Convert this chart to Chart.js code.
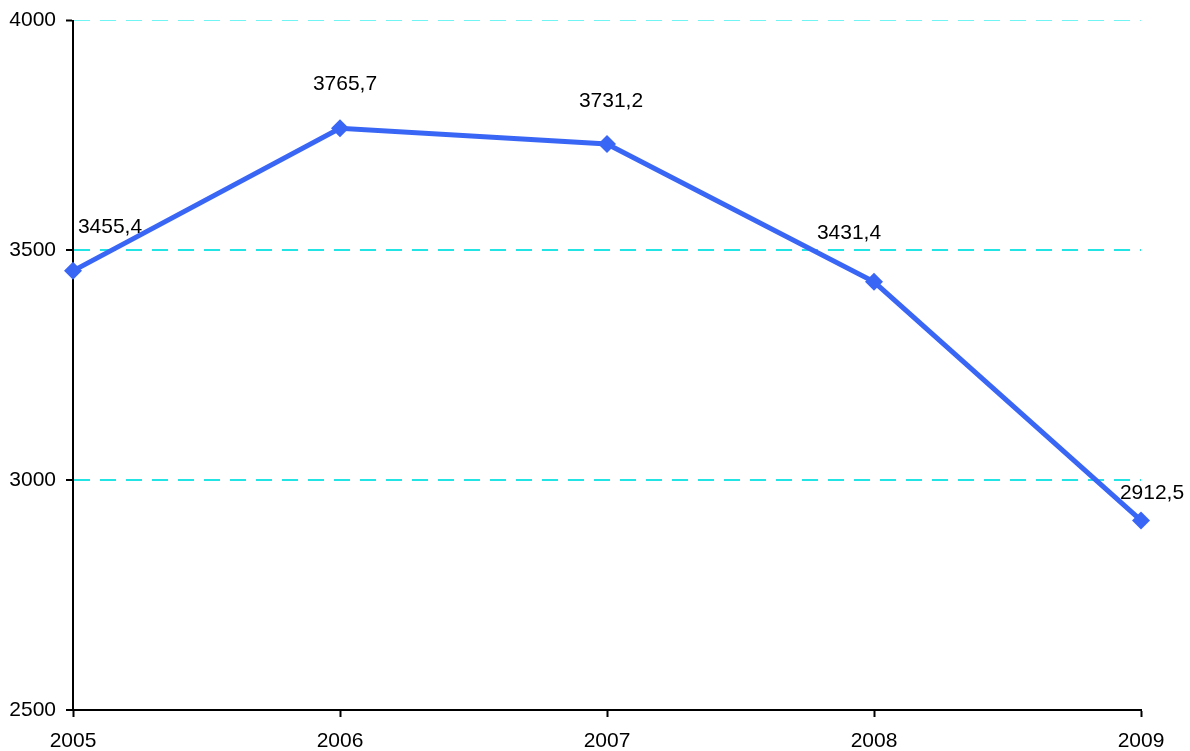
<!DOCTYPE html>
<html>
<head>
<meta charset="utf-8">
<script src="https://cdn.jsdelivr.net/npm/chart.js@4"></script>
<style>
  html, body { margin: 0; padding: 0; background: #fff; }
  #wrap { width: 1190px; height: 751px; }
</style>
</head>
<body>
<div id="wrap"><canvas id="chart"></canvas></div>
<script>
const years = ["2005", "2006", "2007", "2008", "2009"];
const values = [3455.4, 3765.7, 3731.2, 3431.4, 2912.5];
const yTicks = [2500, 3000, 3500, 4000];

const FONT = "'Liberation Sans', Arial, sans-serif";

// label position relative to each point (dx, dy), as in the original
const labelShift = [[37, -44], [5, -44], [4, -43], [-25, -49], [11, -27]];

const pointLabels = {
    id: "pointLabels",
    afterDatasetsDraw(chart) {
        const ctx = chart.ctx;
        const meta = chart.getDatasetMeta(0);
        ctx.save();
        ctx.font = "21px " + FONT;
        ctx.fillStyle = "#000";
        ctx.textAlign = "center";
        ctx.textBaseline = "middle";
        meta.data.forEach((pt, i) => {
            const txt = values[i].toFixed(1).replace(".", ",");
            ctx.fillText(txt, pt.x + labelShift[i][0], pt.y + labelShift[i][1]);
        });
        ctx.restore();
    }
};

new Chart(document.getElementById("chart"), {
    type: "line",
    data: {
        labels: years,
        datasets: [{
            data: values,
            borderColor: "#3A66F5",
            backgroundColor: "#3A66F5",
            borderWidth: 5,
            pointStyle: "rectRot",
            pointRadius: 9,
            pointBorderWidth: 0,
            tension: 0,
            fill: false
        }]
    },
    options: {
        responsive: true,
        maintainAspectRatio: false,
        animation: false,
        layout: { padding: { left: 0, right: 49, top: 20, bottom: 0 } },
        plugins: {
            legend: { display: false },
            tooltip: { enabled: false }
        },
        scales: {
            x: {
                offset: false,
                grid: {
                    drawOnChartArea: false,
                    tickLength: 7,
                    tickColor: "#000",
                    tickWidth: 2,
                    color: "#000"
                },
                border: { color: "#000", width: 2 },
                ticks: {
                    color: "#000",
                    font: { family: FONT, size: 21 },
                    padding: 12,
                    maxRotation: 0
                },
                afterFit(axis) { axis.height = 41; }
            },
            y: {
                min: 2500,
                max: 4000,
                afterBuildTicks(axis) { axis.ticks = yTicks.map(v => ({ value: v })); },
                grid: {
                    color: c => c.tick && c.tick.value === 2500 ? "rgba(0,0,0,0)"
                        : (c.tick && c.tick.value === 4000 ? "#70F4F4" : "#22E4E4"),
                    lineWidth: c => c.tick && c.tick.value === 4000 ? 1 : 2,
                    tickLength: 7,
                    tickColor: "#000",
                    tickWidth: 2
                },
                border: { color: "#000", width: 2, dash: [16, 10] },
                ticks: {
                    color: "#000",
                    font: { family: FONT, size: 21, lineHeight: 1 },
                    padding: 10,
                    callback: v => String(v)
                },
                afterFit(axis) { axis.width = 73; }
            }
        }
    },
    plugins: [pointLabels]
});
</script>
</body>
</html>
